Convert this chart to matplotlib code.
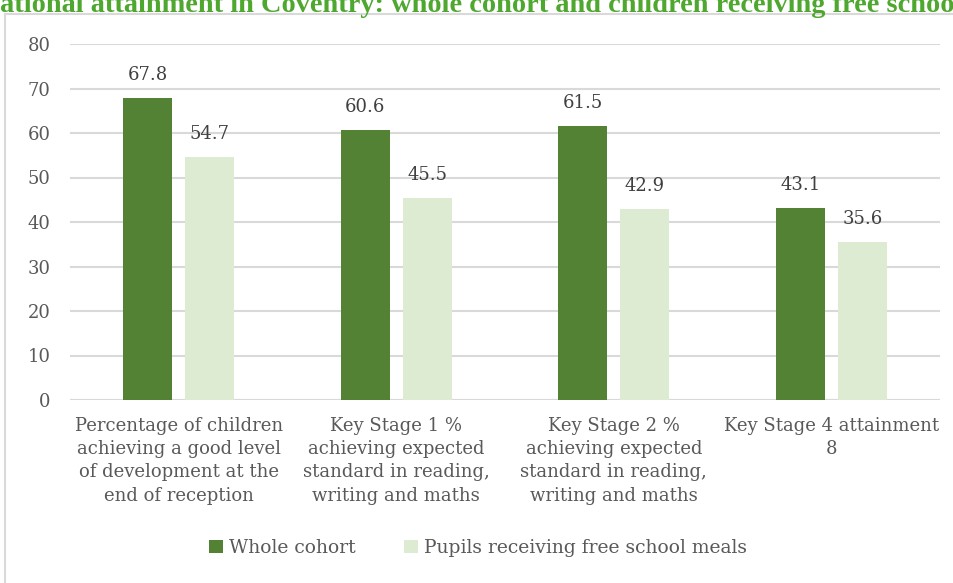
import matplotlib
matplotlib.use("Agg")
import matplotlib.pyplot as plt
from matplotlib.patches import Rectangle
import numpy as np

categories = [
    "Percentage of children\nachieving a good level\nof development at the\nend of reception",
    "Key Stage 1 %\nachieving expected\nstandard in reading,\nwriting and maths",
    "Key Stage 2 %\nachieving expected\nstandard in reading,\nwriting and maths",
    "Key Stage 4 attainment\n8",
]
series_names = ["Whole cohort", "Pupils receiving free school meals"]
whole_cohort = [67.8, 60.6, 61.5, 43.1]
free_school_meals = [54.7, 45.5, 42.9, 35.6]
y_ticks = [0, 10, 20, 30, 40, 50, 60, 70, 80]
title = "Educational attainment in Coventry: whole cohort and children receiving free school meals"

W, H = 954, 583
fig = plt.figure(figsize=(W / 100, H / 100), dpi=100)
fig.patch.set_facecolor("white")

serif = ["DejaVu Serif"]
txt_col = "#595959"
dark = "#548235"
light = "#DDEBD3"
grid_col = "#D9D9D9"

# chart frame
fig.patches.append(Rectangle((5 / W, -0.1), 1.2, (583 - 14) / H + 0.1, transform=fig.transFigure,
                             fill=False, edgecolor=grid_col, linewidth=1.5))

# title (clipped on the left like the reference)
renderer = fig.canvas.get_renderer()
t = fig.text(0, 1 - 12 / H, title, fontsize=15, fontweight="bold", family=["Liberation Serif"],
             color="#4EA72E", ha="left", va="baseline")
prefix = fig.text(0, 0, "Educ", fontsize=15, fontweight="bold", family=["Liberation Serif"])
visible = fig.text(0, 0, "ational attainment in Coventry: whole cohort and children receiving free schoo",
                   fontsize=15, fontweight="bold", family=["Liberation Serif"])
vw = visible.get_window_extent(renderer).width
scale = 958 / vw
for tt in (t, prefix):
    tt.set_fontsize(15 * scale)
pw = prefix.get_window_extent(renderer).width
prefix.remove()
visible.remove()
t.set_x(-pw / W)

ax = fig.add_axes([70 / W, (583 - 400) / H, (940 - 70) / W, (400 - 44) / H])
x = np.arange(len(categories))
bw = 0.225
off = 0.143
b1 = ax.bar(x - off, whole_cohort, bw, color=dark, label=series_names[0], zorder=3)
b2 = ax.bar(x + off, free_school_meals, bw, color=light, label=series_names[1], zorder=3)
for bars, vals in ((b1, whole_cohort), (b2, free_school_meals)):
    for r, v in zip(bars, vals):
        ax.annotate(f"{v:.1f}", (r.get_x() + r.get_width() / 2, v), xytext=(0, 10),
                    textcoords="offset points", ha="center", va="bottom",
                    fontsize=13, family=serif, color="#404040")

ax.set_xlim(-0.5, len(categories) - 0.5)
ax.set_ylim(0, 80)
ax.set_yticks(y_ticks)
ax.set_yticklabels([str(v) for v in y_ticks], fontsize=13, family=serif, color=txt_col)
ax.set_xticks(x)
ax.set_xticklabels(categories, fontsize=13, family=serif, color=txt_col, linespacing=1.38)
ax.tick_params(axis="both", length=0)
ax.tick_params(axis="y", pad=14)
ax.tick_params(axis="x", pad=12)
ax.grid(axis="y", color=grid_col, linewidth=1.5, zorder=0)
for s in ax.spines.values():
    s.set_visible(False)
ax.axhline(0, color=grid_col, linewidth=1.5, zorder=2)

leg = fig.legend(handles=[b1, b2], labels=series_names, loc="center", bbox_to_anchor=(478 / W, 1 - 548 / H),
                 ncol=2, frameon=False, prop={"family": serif, "size": 13.5}, handlelength=0.75,
                 handleheight=0.75, handletextpad=0.3, columnspacing=2.6)
for tx in leg.get_texts():
    tx.set_color(txt_col)

fig.savefig("out.png", dpi=100, facecolor="white")
